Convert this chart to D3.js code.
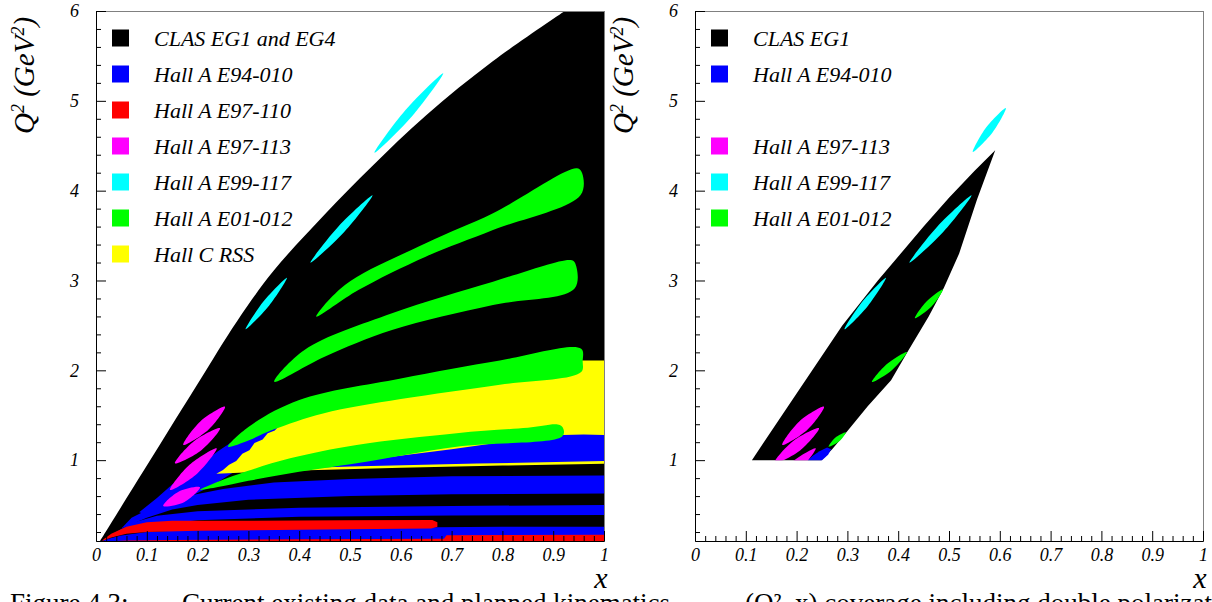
<!DOCTYPE html>
<html><head><meta charset="utf-8">
<script src="https://cdn.jsdelivr.net/npm/d3@7"></script>
<style>
html,body{margin:0;padding:0;background:#fff;overflow:hidden;}
svg{display:block;}
</style></head><body>
<svg id="chart" width="1212" height="602"></svg>
<script>
// ---------------- DATA (x, Q^2 in GeV^2) ----------------
const xTickValues = [0,0.1,0.2,0.3,0.4,0.5,0.6,0.7,0.8,0.9,1];
const xTickLabels = ["0","0.1","0.2","0.3","0.4","0.5","0.6","0.7","0.8","0.9","1"];
const yTickValues = [1,2,3,4,5,6];
const yTickLabels = ["1","2","3","4","5","6"];

const legendLeftNames = ["CLAS EG1 and EG4","Hall A E94-010","Hall A E97-110","Hall A E97-113","Hall A E99-117","Hall A E01-012","Hall C RSS"];
const legendLeftColors = ["#000000","#0000ff","#ff0000","#ff00ff","#00ffff","#00ff00","#ffff00"];
const legendRightNames = ["CLAS EG1","Hall A E94-010",null,"Hall A E97-113","Hall A E99-117","Hall A E01-012"];
const legendRightColors = ["#000000","#0000ff",null,"#ff00ff","#00ffff","#00ff00"];

// Left panel: CLAS EG1+EG4 upper boundary (region below it down to Q2 = 0.1 and right of it up to 6)
const clasEG14Edge = [[0.008,0.1],[0.199,1.84],[0.278,2.55],[0.35,3.11],[0.451,3.74],[0.543,4.27],[0.65,4.84],[0.781,5.44],[0.923,6.0]];

// Hall A E94-010 bands (drawn under RSS)
const e94010Bands = [
  [[0.012,0.1],[1.0,0.1],[1.0,0.26],[0.8,0.258],[0.6,0.25],[0.4,0.24],[0.2,0.225],[0.1,0.2],[0.05,0.16],[0.025,0.125]],
  [[0.03,0.14],[0.06,0.21],[0.1,0.27],[0.2,0.33],[0.4,0.37],[0.7,0.385],[1.0,0.39],[1.0,0.50],[0.7,0.49],[0.4,0.47],[0.2,0.43],[0.12,0.38],[0.07,0.3],[0.04,0.2]],
  [[0.05,0.24],[0.1,0.36],[0.15,0.45],[0.2,0.5],[0.3,0.56],[0.5,0.6],[0.7,0.62],[1.0,0.63],[1.0,0.83],[0.7,0.82],[0.5,0.79],[0.35,0.75],[0.25,0.68],[0.18,0.6],[0.12,0.5],[0.07,0.36]],
  [[0.085,0.42],[0.12,0.58],[0.15,0.73],[0.2,0.93],[0.24,1.1],[0.28,1.25],[0.32,1.36],[0.36,1.44],[0.37,1.3],[0.33,1.1],[0.28,0.9],[0.23,0.72],[0.18,0.58],[0.13,0.47],[0.095,0.40]]
];
// Hall C RSS
const rssRegion = [[0.237,0.85],[0.4,0.885],[0.6,0.915],[0.8,0.94],[1.0,0.96],[1.0,2.11],[0.953,2.11],[0.95,2.0],[0.795,1.86],[0.6,1.7],[0.447,1.54],[0.36,1.38],[0.352,1.33],[0.338,1.3],[0.328,1.23],[0.312,1.19],[0.302,1.11],[0.288,1.07],[0.276,0.99],[0.262,0.95],[0.25,0.89]];
// Hall A E94-010 highest band (drawn over RSS)
const e94010Top = [[0.33,0.895],[0.5,0.93],[0.75,0.962],[1.0,0.99],[1.0,1.28],[0.96,1.285],[0.92,1.28],[0.85,1.24],[0.7,1.12],[0.5,0.98],[0.4,0.93]];
// Hall A E97-110
const e97110Bands = [
  [[0.012,0.1],[0.03,0.14],[0.06,0.18],[0.1,0.2],[0.2,0.215],[0.4,0.225],[0.6,0.235],[0.66,0.24],[0.672,0.26],[0.672,0.31],[0.662,0.335],[0.5,0.33],[0.3,0.325],[0.15,0.325],[0.1,0.31],[0.06,0.26],[0.03,0.18],[0.015,0.12]],
  [[0.04,0.1],[1.0,0.1],[1.0,0.17],[0.69,0.165],[0.685,0.125],[0.4,0.12],[0.15,0.112],[0.06,0.105]]
];
// Hall A E01-012
const e01012Bands = [
  [[0.4337,2.597],[0.49,2.95],[0.649,3.414],[0.7815,3.748],[0.947,4.249],[0.957,4.193],[0.954,3.952],[0.7815,3.562],[0.649,3.265],[0.5165,2.894]],
  [[0.351,1.873],[0.4104,2.226],[0.5827,2.634],[0.7815,2.987],[0.934,3.228],[0.9425,3.2],[0.9425,2.913],[0.7815,2.727],[0.5827,2.449],[0.45,2.152]],
  [[0.26,1.15],[0.30,1.37],[0.40,1.67],[0.6,1.91],[0.795,2.11],[0.955,2.24],[0.958,2.1],[0.955,1.98],[0.795,1.84],[0.6,1.68],[0.447,1.52],[0.349,1.34],[0.3,1.22]],
  [[0.205,0.67],[0.24,0.76],[0.283,0.85],[0.382,1.02],[0.513,1.17],[0.71,1.30],[0.85,1.36],[0.913,1.39],[0.921,1.33],[0.917,1.26],[0.71,1.15],[0.513,0.965],[0.4,0.87],[0.3,0.77],[0.24,0.7]]
];
// Hall A E97-113 (tip, side, tip, side)
const e97113Blobs = [
  [[0.1719,1.169],[0.2207,1.335],[0.2539,1.595],[0.2053,1.430]],
  [[0.1555,0.965],[0.2069,1.108],[0.2441,1.355],[0.1927,1.210]],
  [[0.1457,0.668],[0.199,0.85],[0.2376,1.132],[0.184,0.948]],
  [[0.1325,0.49],[0.1742,0.535],[0.2047,0.698],[0.1632,0.651]]
];
// Hall A E99-117
const e99117Left = [
  [[0.5482,4.423],[0.6226,4.832],[0.6835,5.306],[0.6093,4.897]],
  [[0.4222,3.198],[0.489,3.543],[0.5443,3.948],[0.4776,3.603]],
  [[0.2945,2.457],[0.3406,2.719],[0.376,3.031],[0.3299,2.768]]
];
const e99117Right = [
  [[0.547,4.43],[0.586,4.649],[0.612,4.92],[0.573,4.702]],
  [[0.4222,3.198],[0.489,3.543],[0.5443,3.948],[0.4776,3.603]],
  [[0.2945,2.457],[0.3406,2.719],[0.376,3.031],[0.3299,2.768]]
];
// Right panel: CLAS EG1
const clasEG1Region = [[0.112,1.0],[0.249,1.0],[0.27,1.12],[0.2965,1.3],[0.34,1.6],[0.386,1.89],[0.42,2.22],[0.46,2.6],[0.49,2.92],[0.52,3.3],[0.555,3.9],[0.591,4.45],[0.55,4.22],[0.5,3.92],[0.45,3.6],[0.36,3.0],[0.29,2.5]];
const e94010Right = [[0.222,1.0],[0.25,1.0],[0.262,1.06],[0.268,1.12],[0.26,1.14],[0.245,1.1],[0.232,1.05]];
const e01012Right = [
  [[0.433,2.58],[0.4656,2.71],[0.488,2.9],[0.4557,2.766]],
  [[0.3484,1.870],[0.388,2.004],[0.4173,2.204],[0.3778,2.070]],
  [[0.263,1.15],[0.284,1.21],[0.297,1.31],[0.276,1.25]]
];
const captionText = ["Figure 4.3:", "Current existing data and planned kinematics", "(Q\u00B2, x) coverage including double polarization"];

// ---------------- DRAWING ----------------
const SERIF = '"Liberation Serif","DejaVu Serif",serif';
const svg = d3.select("#chart");
const defs = svg.append("defs");
const C = {black:"#000000",blue:"#0000ff",red:"#ff0000",mag:"#ff00ff",cyan:"#00ffff",green:"#00ff00",yellow:"#ffff00"};

function makePanel(idx, x0, x1, drawShapes, names, colors) {
  const x = d3.scaleLinear([0,1],[x0,x1]);
  const y = d3.scaleLinear([0.1,6],[541,11]);
  defs.append("clipPath").attr("id","clip"+idx).append("rect")
    .attr("x",x0).attr("y",y(6)).attr("width",x1-x0).attr("height",y(0.1)-y(6));
  const g = svg.append("g").attr("clip-path",`url(#clip${idx})`);
  const lin = d3.line().x(d=>x(d[0])).y(d=>y(d[1])).curve(d3.curveLinearClosed);
  const smooth = d3.line().x(d=>x(d[0])).y(d=>y(d[1])).curve(d3.curveCatmullRomClosed.alpha(0.5));
  drawShapes(g, x, y, lin, smooth);

  // frame
  svg.append("rect").attr("x",x0+0.5).attr("y",y(6)+0.5).attr("width",x1-x0).attr("height",y(0.1)-y(6))
    .attr("fill","none").attr("stroke","#808080").attr("stroke-width",1);

  // y axis (ticks pointing inward)
  const gy = svg.append("g").attr("transform",`translate(${x0},0)`)
    .call(d3.axisLeft(y).tickValues(yTickValues).tickFormat((d,i)=>yTickLabels[i])
      .tickSizeInner(-10).tickSizeOuter(0).tickPadding(17));
  svg.append("g").attr("transform",`translate(${x0},0)`)
    .call(d3.axisLeft(y).tickValues(d3.range(0.2,6,0.2).filter(v=>Math.abs(v-Math.round(v))>1e-6))
      .tickFormat("").tickSizeInner(-5).tickSizeOuter(0))
    .call(s=>s.select(".domain").remove());
  // x axis
  const gx = svg.append("g").attr("transform",`translate(0,${y(0.1)})`)
    .call(d3.axisBottom(x).tickValues(xTickValues).tickFormat((d,i)=>xTickLabels[i])
      .tickSizeInner(-10).tickSizeOuter(0).tickPadding(7));
  svg.append("g").attr("transform",`translate(0,${y(0.1)})`)
    .call(d3.axisBottom(x).tickValues(d3.range(0,1.0001,0.02).filter(v=>Math.abs(v*10-Math.round(v*10))>1e-6))
      .tickFormat("").tickSizeInner(-5).tickSizeOuter(0))
    .call(s=>s.select(".domain").remove());
  [gx,gy].forEach(a=>a.selectAll("text").attr("font-family",SERIF).attr("font-style","italic")
    .attr("font-size",18).attr("fill","#000"));

  // axis titles
  const t = svg.append("text").attr("transform",`translate(${x0-62},134) rotate(-90)`)
    .attr("font-family",SERIF).attr("font-style","italic").attr("font-size",29).attr("fill","#000");
  t.append("tspan").text("Q");
  t.append("tspan").attr("baseline-shift","super").attr("font-size",18).text("2");
  t.append("tspan").text(" (GeV");
  t.append("tspan").attr("baseline-shift","super").attr("font-size",18).text("2");
  t.append("tspan").text(")");
  svg.append("text").attr("x",x1-3).attr("y",588).attr("text-anchor","middle")
    .attr("font-family",SERIF).attr("font-style","italic").attr("font-size",30).text("x");

  // legend
  const lg = svg.append("g");
  names.forEach((n,i)=>{
    if (!n) return;
    const cy = 38 + i*36;
    lg.append("rect").attr("x",x0+16).attr("y",cy-8.5).attr("width",17).attr("height",17).attr("fill",colors[i]);
    lg.append("text").attr("x",x0+58).attr("y",cy+7.5).attr("font-family",SERIF).attr("font-style","italic")
      .attr("font-size",22).attr("fill","#000").text(n);
  });
}

makePanel(0, 96, 604, (g,x,y,lin,smooth)=>{
  const edge = d3.line().x(d=>x(d[0])).y(d=>y(d[1])).curve(d3.curveCatmullRom.alpha(0.5))(clasEG14Edge);
  g.append("path").attr("d", edge + `L${x(1)},${y(6)}L${x(1)},${y(0.1)}Z`).attr("fill",C.black);
  e94010Bands.forEach(b=>g.append("path").attr("d",lin(b)).attr("fill",C.blue));
  g.append("path").attr("d",lin(rssRegion)).attr("fill",C.yellow);
  g.append("path").attr("d",lin(e94010Top)).attr("fill",C.blue);
  e97110Bands.forEach(b=>g.append("path").attr("d",lin(b)).attr("fill",C.red));
  e01012Bands.forEach(b=>g.append("path").attr("d",smooth(b)).attr("fill",C.green));
  e97113Blobs.forEach(b=>g.append("path").attr("d",smooth(b)).attr("fill",C.mag));
  e99117Left.forEach(b=>g.append("path").attr("d",smooth(b)).attr("fill",C.cyan));
}, legendLeftNames, legendLeftColors);

makePanel(1, 695, 1203, (g,x,y,lin,smooth)=>{
  g.append("path").attr("d",lin(clasEG1Region)).attr("fill",C.black);
  g.append("path").attr("d",lin(e94010Right)).attr("fill",C.blue);
  defs.append("clipPath").attr("id","clipQ1").append("rect")
    .attr("x",x(0)).attr("y",y(6)).attr("width",x(1)-x(0)).attr("height",y(1)-y(6));
  const gm = g.append("g").attr("clip-path","url(#clipQ1)");
  e97113Blobs.forEach(b=>gm.append("path").attr("d",smooth(b)).attr("fill",C.mag));
  e01012Right.forEach(b=>g.append("path").attr("d",smooth(b)).attr("fill",C.green));
  e99117Right.forEach(b=>g.append("path").attr("d",smooth(b)).attr("fill",C.cyan));
}, legendRightNames, legendRightColors);

// caption (cut off at the bottom edge, as in the source)
const cap = svg.append("text").attr("y",612).attr("font-family",SERIF).attr("font-size",27).attr("fill","#000");
cap.append("tspan").attr("x",10).text(captionText[0]);
cap.append("tspan").attr("x",182).text(captionText[1]);
cap.append("tspan").attr("x",745).text(captionText[2]);
</script></body></html>
